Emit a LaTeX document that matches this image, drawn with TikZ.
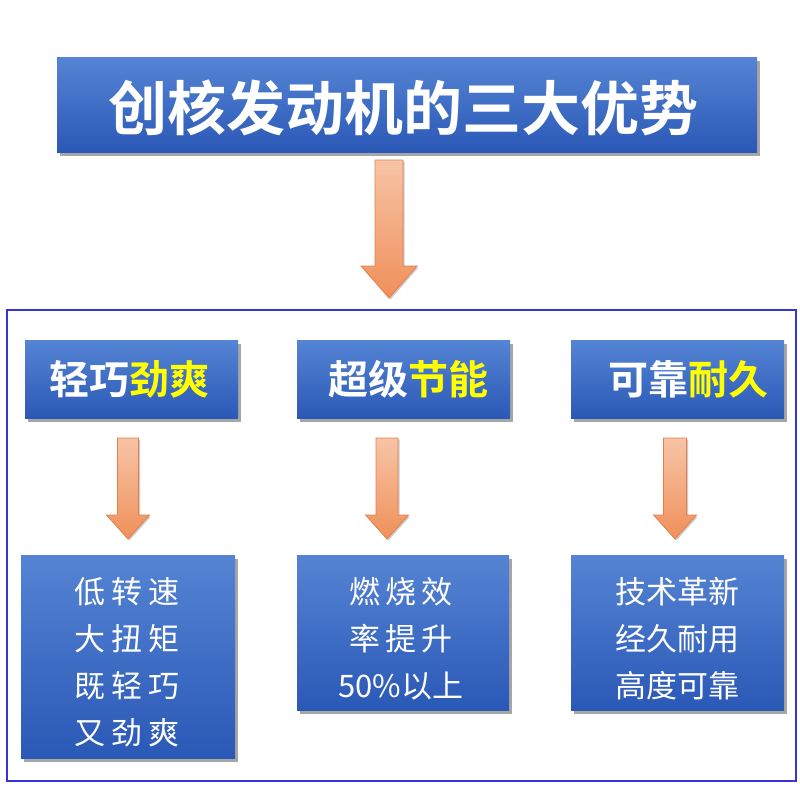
\documentclass[tikz,border=0pt]{standalone}
\usepackage{fontspec}
\newfontfamily\cjkbold{Noto Sans CJK SC Bold}
\newfontfamily\cjkreg{Noto Sans CJK SC}
\usetikzlibrary{shadows,calc}
\definecolor{boxtop}{HTML}{5584D4}
\definecolor{boxbot}{HTML}{2A58B6}
\definecolor{arrtop}{HTML}{F7C4A6}
\definecolor{arrbot}{HTML}{F0905A}
\definecolor{arrline}{HTML}{E57E4C}
\definecolor{framecol}{HTML}{3535D5}
\definecolor{hiyellow}{HTML}{FFFF00}
\tikzset{
  bluebox/.style={rectangle, top color=boxtop, bottom color=boxbot, draw=none,
    inner sep=0pt, anchor=north west,
    drop shadow={shadow xshift=3pt, shadow yshift=-4pt, fill=black, opacity=0.35}},
  blockarr/.style={top color=arrtop, bottom color=arrbot, draw=arrline, line width=0.8pt,
    drop shadow={shadow xshift=1.5pt, shadow yshift=-1.5pt, fill=black, opacity=0.2}},
  headtxt/.style={font=\cjkbold\fontsize{40}{44}\selectfont, text=white},
  bodytxt/.style={font=\cjkreg\fontsize{31}{47}\selectfont, text=white, align=center},
}
% block arrow: #1 top point, #2 tip point, #3 shaft half width, #4 head half width, #5 head length
\newcommand\blkarrow[5]{%
  \draw[blockarr] let \p1=(#1), \p2=(#2) in
    (\x2-#3,\y1) -- (\x2+#3,\y1) -- (\x2+#3,\y2+#5) -- (\x2+#4,\y2+#5) --
    (\x2,\y2) -- (\x2-#4,\y2+#5) -- (\x2-#3,\y2+#5) -- cycle;}
\begin{document}
\begin{tikzpicture}[x=1pt,y=-1pt]
\useasboundingbox[fill=white] (0,0) rectangle (800,800);
% outer frame
\node[draw=framecol, fill=white, line width=1.8pt, rectangle, anchor=north west, inner sep=0pt,
  minimum width=789pt, minimum height=471pt,
  drop shadow={shadow xshift=1.5pt, shadow yshift=-1.5pt, fill=black, opacity=0.2}] (frame) at (6,309) {};
% title
\node[bluebox, minimum width=700pt, minimum height=95pt] (title) at (57,57) {};
\node[font=\cjkbold\fontsize{59}{64}\selectfont, text=white] (titletxt) at ($(title.center)+(-4pt,-3pt)$) {创核发动机的三大优势};
% header boxes
\node[bluebox, minimum width=213pt, minimum height=78pt] (h1) at (25,340) {};
\node[bluebox, minimum width=213pt, minimum height=78pt] (h2) at (297,340) {};
\node[bluebox, minimum width=213pt, minimum height=78pt] (h3) at (571,340) {};
\node[headtxt] (h1t) at (129,379) {轻巧\textcolor{hiyellow}{劲爽}};
\node[headtxt] (h2t) at (408,379) {超级\textcolor{hiyellow}{节能}};
\node[headtxt] (h3t) at (688,379) {可靠\textcolor{hiyellow}{耐久}};
% body boxes
\node[bluebox, minimum width=214pt, minimum height=203pt] (b1) at (21,555) {};
\node[bluebox, minimum width=212pt, minimum height=155pt] (b2) at (297,555) {};
\node[bluebox, minimum width=213pt, minimum height=155pt] (b3) at (571,555) {};
\node[bodytxt, anchor=north] (b1t) at (127,574) {低\hspace{6pt}转\hspace{6pt}速\\大\hspace{6pt}扭\hspace{6pt}矩\\既\hspace{6pt}轻\hspace{6pt}巧\\又\hspace{6pt}劲\hspace{6pt}爽};
\node[bodytxt, anchor=north] (b2t) at (401,574) {燃\hspace{5pt}烧\hspace{5pt}效\\率\hspace{5pt}提\hspace{5pt}升\\50\%以上};
\node[bodytxt, anchor=north] (b3t) at (677,574) {技术革新\\经久耐用\\高度可靠};
% arrows
\coordinate (a0s) at (389,160); \coordinate (a0e) at (389,298);
\coordinate (a1s) at (128,438); \coordinate (a1e) at (128,539);
\coordinate (a2s) at (387,438); \coordinate (a2e) at (387,539);
\coordinate (a3s) at (675,438); \coordinate (a3e) at (675,539);
\blkarrow{a0s}{a0e}{14pt}{28pt}{32pt}
\blkarrow{a1s}{a1e}{10.5pt}{21.5pt}{24pt}
\blkarrow{a2s}{a2e}{11pt}{21.5pt}{24pt}
\blkarrow{a3s}{a3e}{11.5pt}{21.5pt}{24pt}
\end{tikzpicture}
\end{document}
